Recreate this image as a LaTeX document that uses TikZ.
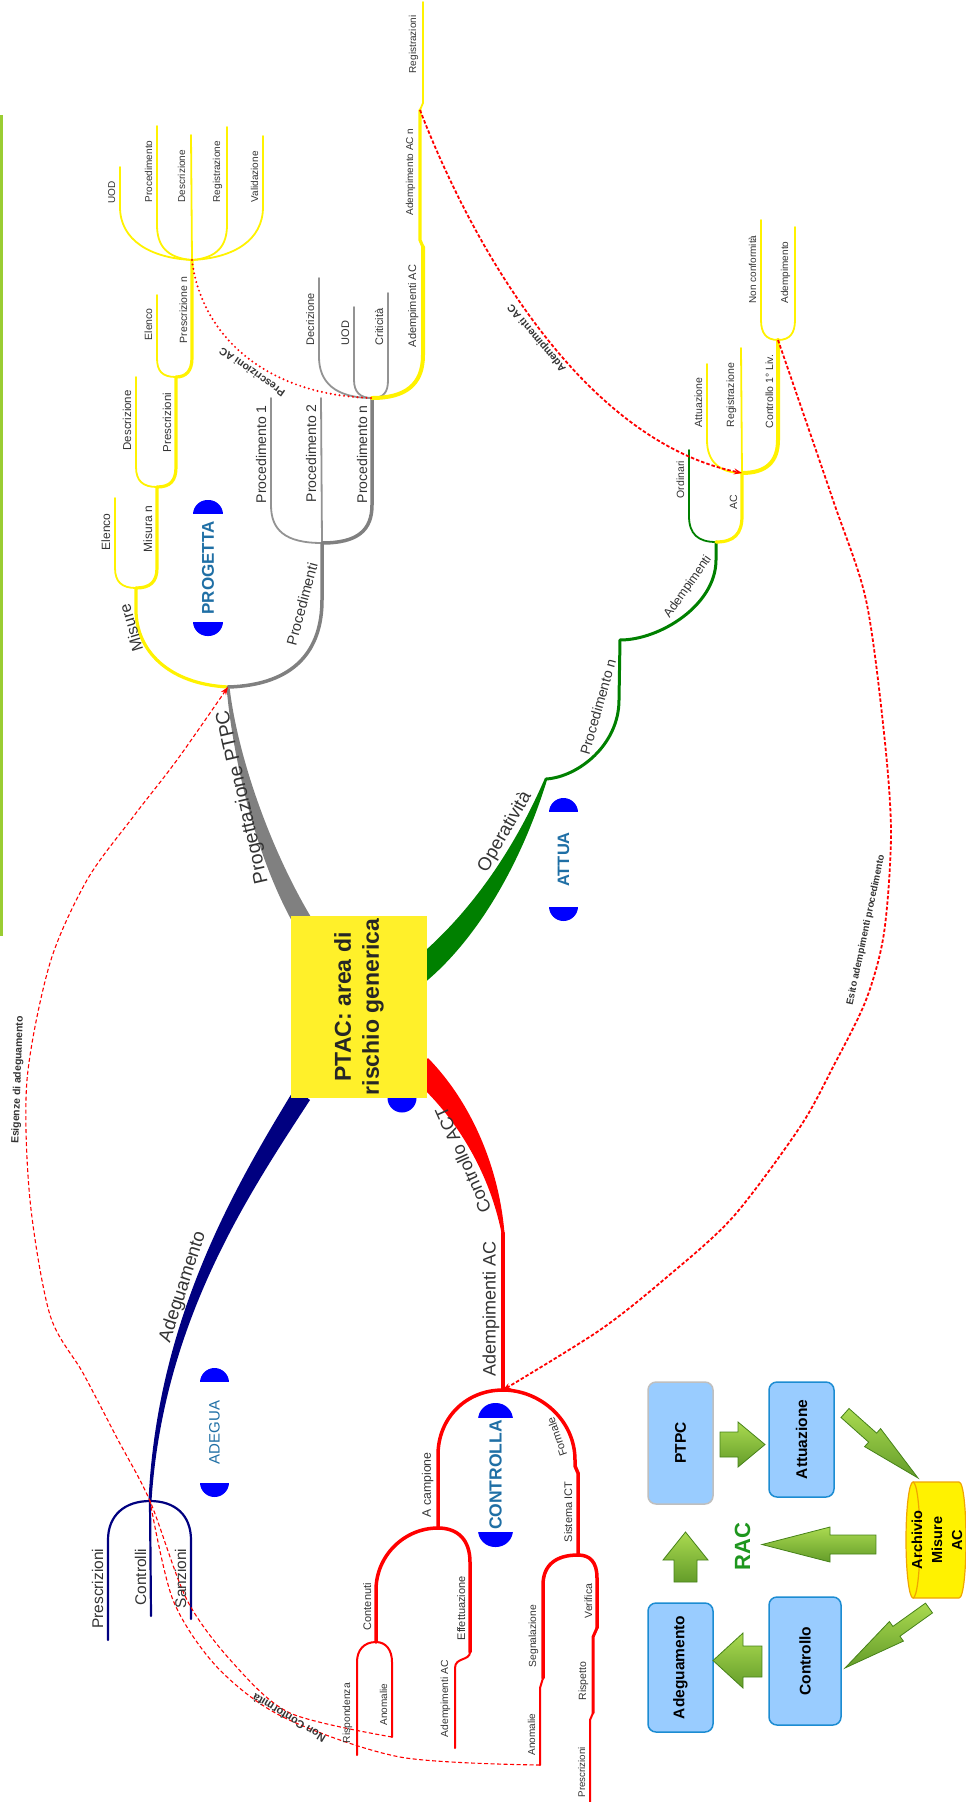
\documentclass[tikz,border=0pt]{standalone}
\usepackage{fontspec}
\setmainfont{Liberation Sans}
\usetikzlibrary{arrows.meta}

\definecolor{navyb}{RGB}{0,0,128}
\definecolor{greyb}{RGB}{128,128,128}
\definecolor{greenb}{RGB}{0,128,0}
\definecolor{redb}{RGB}{255,0,0}
\definecolor{txt}{RGB}{51,51,51}
\definecolor{pilltxt}{RGB}{31,111,165}
\definecolor{ptacyellow}{RGB}{255,240,42}
\definecolor{boxfill}{RGB}{153,204,255}
\definecolor{boxline}{RGB}{28,140,210}
\definecolor{arrowlight}{RGB}{170,218,80}
\definecolor{arrowdark}{RGB}{70,130,25}
\definecolor{racgreen}{RGB}{30,150,30}
\definecolor{cylline}{RGB}{240,165,0}
\definecolor{sidebar}{RGB}{154,205,50}

\begin{document}
\begin{tikzpicture}[x=1pt,y=-1pt,
  fsz/.style={font=\fontsize{#1}{#1}\selectfont},
  bfsz/.style={font=\bfseries\fontsize{#1}{#1}\selectfont},
  leaf/.style={text=txt, inner sep=0.5pt, rotate=90, anchor=south west},
  leafup/.style={text=txt, inner sep=0.5pt, rotate=90, anchor=south east},
  tiltlab/.style={text=txt, inner sep=0pt},
  ybr/.style={draw=yellow, line width=3.2pt, line cap=round},
  ylf/.style={draw=yellow, line width=1.8pt, line cap=round},
  gbr/.style={draw=greyb, line width=3.5pt, line cap=round},
  glf/.style={draw=greyb!85, line width=1.8pt, line cap=round},
  grbr/.style={draw=greenb, line width=3pt, line cap=round},
  grlf/.style={draw=greenb, line width=1.8pt, line cap=round},
  rbr/.style={draw=redb, line width=3.5pt, line cap=round},
  rlf/.style={draw=redb, line width=2pt, line cap=round},
  nlf/.style={draw=navyb, line width=2.2pt, line cap=round},
  rel/.style={draw=redb, line width=1.8pt, dash pattern=on 3.5pt off 2pt},
  relthin/.style={draw=redb, line width=1.1pt, dash pattern=on 4pt off 2.5pt},
  reldots/.style={draw=redb, line width=2.2pt, line cap=round, dash pattern=on 0pt off 4.5pt},
  relhead/.style={-{Stealth[length=8pt,width=6pt]}},
  pillcap/.style={fill=blue, rounded corners=14.5pt},
  pill/.style={fill=white, rotate=90, inner sep=0pt, text=pilltxt, minimum height=34pt},
  cycbox/.style={draw=boxline, line width=1.5pt, fill=boxfill, rounded corners=8pt, rotate=90, bfsz=15.5, inner sep=0pt},
  greenarrow/.style={draw=arrowdark, line width=0.8pt, top color=arrowlight, bottom color=arrowdark!70!arrowlight},
]
\useasboundingbox (0,0) rectangle (966,1802);

\draw[sidebar, line width=3pt] (1.5,115) -- (1.5,936);

% forks of the map
\coordinate (f0) at (228,687);
\coordinate (mis) at (136,588);
\coordinate (msn) at (157,487);
\coordinate (prs) at (176,377);
\coordinate (prn) at (192,260);
\coordinate (prc) at (322,543);
\coordinate (pn) at (372,398);
\coordinate (adac) at (423,247);
\coordinate (adacn) at (420,110);
\coordinate (op) at (546,779);
\coordinate (pdn) at (620,640);
\coordinate (fa) at (716,542);
\coordinate (fac) at (742,473);
\coordinate (fc1) at (778,340);
\coordinate (ck) at (503,1233);
\coordinate (fco) at (503,1390);
\coordinate (fca) at (438,1528);
\coordinate (eff) at (470,1652);
\coordinate (fct) at (376,1642);
\coordinate (ano1) at (392,1737);
\coordinate (fsi) at (578,1555);
\coordinate (seg) at (543,1678);
\coordinate (ano2) at (540,1765);
\coordinate (ver) at (597,1628);
\coordinate (risp) at (593,1713);
\coordinate (fad) at (150,1501);

% main branches
\fill[greyb] (297,930) .. controls (256,860) and (233,760) .. (226.5,687) -- (229.5,687) .. controls (238,760) and (274,860) .. (319,930) -- cycle;
\fill[greenb] (407,966) .. controls (463,922) and (511,857) .. (545,778) -- (547,780) .. controls (521,864) and (477,940) .. (423,984) -- cycle;
\fill[redb] (428,1058) .. controls (472,1103) and (499,1168) .. (504.5,1233) -- (501.5,1233) .. controls (490,1175) and (458,1118) .. (412,1078) -- cycle;
\fill[navyb] (310,1100) .. controls (248,1195) and (163,1322) .. (151.5,1501) -- (148.5,1501) .. controls (157,1318) and (236,1185) .. (295,1088) -- cycle;

% progetta
\draw[ybr] (f0) .. controls (168,684) and (136,650) .. (136,610) -- (mis);
\draw[ylf] (mis) .. controls (122,588) and (115,582) .. (115,568) -- (115,498);
\draw[ybr] (mis) .. controls (150,588) and (157,582) .. (157,568) -- (msn);
\draw[ylf] (msn) .. controls (143,487) and (136,481) .. (136,467) -- (136,377);
\draw[ybr] (msn) .. controls (170,487) and (176,481) .. (176,467) -- (prs);
\draw[ylf] (prs) .. controls (162,377) and (157,371) .. (157,358) -- (157,295);
\draw[ybr] (prs) .. controls (186,377) and (192,371) .. (192,358) -- (prn);
\draw[ylf] (prn) .. controls (150,258) and (120,240) .. (120,207) -- (120,167);
\draw[ylf] (prn) .. controls (167,258) and (157,246) .. (157,225) -- (157,126);
\draw[ylf] (prn) -- (191,135);
\draw[ylf] (prn) .. controls (217,258) and (227,246) .. (227,225) -- (227,127);
\draw[ylf] (prn) .. controls (234,258) and (263,240) .. (263,207) -- (263,136);
\draw[gbr] (f0) .. controls (295,685) and (322,650) .. (322,600) -- (prc);
\draw[glf] (prc) .. controls (285,543) and (271,530) .. (271,505) -- (271,398);
\draw[glf] (prc) -- (321,398);
\draw[gbr] (prc) .. controls (358,543) and (372,530) .. (372,505) -- (pn);
\draw[glf] (pn) .. controls (335,398) and (319,382) .. (319,357) -- (319,278);
\draw[glf] (pn) .. controls (360,398) and (354,392) .. (354,380) -- (354,307);
\draw[glf] (pn) .. controls (384,398) and (388,392) .. (388,380) -- (388,293);
\draw[ybr, line width=4pt] (pn) .. controls (405,398) and (423,385) .. (423,355) -- (adac);
\draw[ybr] (adac) -- (420,240) -- (adacn);
\draw[ylf] (adacn) -- (423,103) -- (423,2);

% attua
\draw[grbr] (op) .. controls (578,777) and (619,745) .. (619,700) -- (pdn);
\draw[grbr] (pdn) .. controls (660,640) and (716,605) .. (716,560) -- (fa);
\draw[grlf] (fa) .. controls (698,542) and (689,534) .. (689,516) -- (689,450);
\draw[ybr] (fa) .. controls (734,542) and (742,534) .. (742,516) -- (fac);
\draw[ylf] (fac) .. controls (720,473) and (707,462) .. (707,440) -- (707,364);
\draw[ylf] (fac) -- (741,348);
\draw[ybr, line width=4pt] (fac) .. controls (766,473) and (778,462) .. (778,440) -- (fc1);
\draw[ylf] (fc1) .. controls (766,340) and (761,333) .. (761,320) -- (761,220);
\draw[ylf] (fc1) .. controls (790,340) and (795,333) .. (795,320) -- (795,227);

% controlla
\draw[rbr] (ck) -- (fco);
\draw[rbr] (fco) .. controls (466,1390) and (438,1418) .. (438,1455) -- (fca);
\draw[rbr] (fco) .. controls (540,1390) and (575,1420) .. (575,1460) -- (575,1466) -- (578,1473) -- (fsi);
\draw[rbr] (fca) .. controls (404,1528) and (376,1556) .. (376,1590) -- (fct);
\draw[rbr] (fca) .. controls (458,1528) and (470,1540) .. (470,1562) -- (eff);
\draw[rlf] (eff) .. controls (470,1661) and (455,1657) .. (455,1668) -- (455,1748);
\draw[rlf] (fct) .. controls (364,1642) and (357,1650) .. (357,1662) -- (357,1755);
\draw[rlf] (fct) .. controls (386,1642) and (392,1650) .. (392,1662) -- (ano1);
\draw[rbr] (fsi) .. controls (556,1555) and (543,1565) .. (543,1585) -- (seg);
\draw[rlf] (seg) -- (540,1688) -- (ano2);
\draw[rbr] (fsi) .. controls (590,1555) and (597,1562) .. (597,1578) -- (ver);
\draw[rlf, line width=3pt] (ver) -- (593,1637) -- (risp);
\draw[rlf] (risp) -- (590,1720) -- (590,1802);

% adegua
\draw[nlf] (fad) .. controls (125,1501) and (108,1515) .. (108,1540) -- (108,1640);
\draw[nlf] (fad) -- (151,1616);
\draw[nlf] (fad) .. controls (175,1501) and (191,1515) .. (191,1540) -- (191,1619);

% central topic
\fill[blue] (402,1098) circle[radius=14.5];
\node[fill=ptacyellow, rotate=90, minimum width=182pt, minimum height=136pt, align=center,
  font=\bfseries\fontsize{23}{28}\selectfont, text=black!85, inner sep=0pt] (ptac) at (359,1007) {PTAC: area di\\rischio generica};

% phase markers
\fill[pillcap] (193,500) rectangle (223,636);
\node[pill, bfsz=17, minimum width=108pt] (progetta) at (208,568) {PROGETTA};
\fill[pillcap] (549,798) rectangle (578,921);
\node[pill, bfsz=16.5, minimum width=95pt] (attua) at (563.5,859.5) {ATTUA};
\fill[pillcap] (200,1368) rectangle (229,1497);
\node[pill, fsz=15, minimum width=101pt] (adegua) at (214.5,1432.5) {ADEGUA};
\fill[pillcap, rounded corners=17pt] (478,1403) rectangle (513,1547);
\node[pill, bfsz=17.5, minimum width=114pt, minimum height=38pt] (controlla) at (495.5,1475) {CONTROLLA};

% relations
\draw[reldots] (prn) .. controls (200,330) and (260,395) .. (pn);
\draw[rel, relhead] (adacn) .. controls (470,240) and (580,440) .. (fac);
\draw[rel, relhead] plot[smooth] coordinates {(fc1) (833,500) (866,600) (884,733) (891,833) (884,933) (866,1000) (833,1067) (800,1127) (733,1217) (667,1277) (600,1330) (fco)};
\draw[relthin, relhead] plot[smooth] coordinates {(ano1) (290,1713) (233,1663) (187,1600) (fad) (117,1438) (83,1373) (50,1315) (30,1200) (27,1080) (50,963) (87,880) (133,817) (177,760) (f0)};
\draw[relthin] plot[smooth] coordinates {(ano2) (400,1757) (283,1717) (217,1667) (173,1600) (fad)};

\node[tiltlab, bfsz=10.5, rotate=145] (lprescac) at (252,372) {Prescrizioni AC};
\node[tiltlab, bfsz=10.5, rotate=130] (ladempac) at (537,338) {Adempimenti AC};
\node[tiltlab, bfsz=9.7, rotate=78] (lesito) at (866,930) {Esito adempimenti procedimento};
\node[tiltlab, bfsz=10.4, rotate=88] (lesig) at (18,1080) {Esigenze di adeguamento};
\node[tiltlab, bfsz=11, rotate=149] (lnonconf) at (289,1718) {Non Conformità};

% branch labels
\node[tiltlab, fsz=19.5, rotate=103] (lprog) at (243,797) {Progettazione PTPC};
\node[tiltlab, fsz=16, rotate=107] (lmis) at (131,628) {Misure};
\node[tiltlab, fsz=14.5, rotate=75] (lproc) at (302,604) {Procedimenti};
\node[tiltlab, fsz=18.5, rotate=60] (lop) at (505,832) {Operatività};
\node[tiltlab, fsz=14, rotate=74] (lpn) at (598,707) {Procedimento n};
\node[tiltlab, fsz=12.5, rotate=55] (ladem) at (688,587) {Adempimenti};
\node[tiltlab, fsz=18, rotate=114] (lcact) at (463,1160) {Controllo ACT};
\node[tiltlab, fsz=11, rotate=109] (lform) at (557,1437) {Formale};
\node[tiltlab, fsz=18.5, rotate=72] (lade) at (183,1287) {Adeguamento};

\node[leaf, fsz=12] (lelenco1) at (111,551) {Elenco};
\node[leaf, fsz=12] (lmisuran) at (153,553) {Misura n};
\node[leaf, fsz=11.5] (ldescr1) at (132,451) {Descrizione};
\node[leaf, fsz=11.5] (lprescr1) at (172,453) {Prescrizioni};
\node[leaf, fsz=10.5] (lelenco2) at (153,341) {Elenco};
\node[leaf, fsz=10.5] (lprescrn) at (188,344) {Prescrizione n};
\node[leaf, fsz=10] (luod1) at (116,204) {UOD};
\node[leaf, fsz=10] (lproced) at (153,203) {Procedimento};
\node[leaf, fsz=10] (ldescr2) at (186,203) {Descrizione};
\node[leaf, fsz=10] (lregistr1) at (223,203) {Registrazione};
\node[leaf, fsz=10] (lvalid) at (259,203) {Validazione};
\node[leaf, fsz=14] (lproc1) at (267,504) {Procedimento 1};
\node[leaf, fsz=14] (lproc2) at (317,503) {Procedimento 2};
\node[leaf, fsz=14] (lprocn) at (368,504) {Procedimento n};
\node[leaf, fsz=11] (ldecr) at (315,346) {Decrizione};
\node[leaf, fsz=11] (luod2) at (350,346) {UOD};
\node[leaf, fsz=11] (lcritic) at (384,346) {Criticità};
\node[leaf, fsz=11] (lademac) at (419,348) {Adempimenti AC};
\node[leaf, fsz=10] (lademacn) at (416,216) {Adempimento AC n};
\node[leaf, fsz=10] (lregistrs) at (419,74) {Registrazioni};

\node[leaf, fsz=10.5] (lordin) at (685,499) {Ordinari};
\node[leaf, fsz=10.5] (lac) at (738,510) {AC};
\node[leaf, fsz=10.5] (lattuaz) at (703,428) {Attuazione};
\node[leaf, fsz=10.5] (lregistr2) at (737,428) {Registrazione};
\node[leaf, fsz=10.5] (lcontr1) at (774,429) {Controllo 1° Liv.};
\node[leaf, fsz=10] (lnonconfl) at (757,304) {Non conformità};
\node[leaf, fsz=10] (lademp) at (791,304) {Adempimento};

\node[leaf, fsz=18] (lademacr) at (500,1377) {Adempimenti AC};
\node[leaf, fsz=12.3] (lacamp) at (434,1518) {A campione};
\node[leaf, fsz=11] (lsistict) at (573,1543) {Sistema ICT};
\node[leaf, fsz=11] (lconten) at (372,1631) {Contenuti};
\node[leaf, fsz=11] (leffett) at (466,1641) {Effettuazione};
\node[leaf, fsz=10.3] (lademacl) at (451,1738) {Adempimenti AC};
\node[leaf, fsz=10.3] (lrispond) at (353,1744) {Rispondenza};
\node[leaf, fsz=10] (lanom1) at (388,1726) {Anomalie};
\node[leaf, fsz=10.3] (lsegnal) at (539,1668) {Segnalazione};
\node[leaf, fsz=10] (lanom2) at (536,1756) {Anomalie};
\node[leaf, fsz=10.5] (lverif) at (593,1619) {Verifica};
\node[leaf, fsz=10.5] (lrispet) at (589,1701) {Rispetto};
\node[leaf, fsz=9.7] (lprescr3) at (586,1798) {Prescrizioni};

\node[leafup, fsz=15.5] (lprescr2) at (104,1548) {Prescrizioni};
\node[leafup, fsz=15.5] (lcontrolli) at (147,1548) {Controlli};
\node[leafup, fsz=15.5] (lsanz) at (187,1548) {Sanzioni};

% RAC cycle
\node[cycbox, draw=gray!50, minimum width=122pt, minimum height=65pt] (ptpc) at (680.5,1443) {PTPC};
\node[cycbox, minimum width=115pt, minimum height=65pt] (attuazione) at (801.5,1439.5) {Attuazione};
\node[cycbox, minimum width=129pt, minimum height=65pt] (adeguamento) at (680.5,1667.5) {Adeguamento};
\node[cycbox, minimum width=128pt, minimum height=72pt] (controllo) at (805,1661) {Controllo};

\fill[yellow] (913,1482) rectangle (959,1598);
\filldraw[yellow, draw=cylline, line width=1.2pt] (913,1482) -- (959,1482) .. controls (968.3,1482) and (968.3,1598) .. (959,1598) -- (913,1598);
\filldraw[fill=yellow, draw=cylline, line width=1.2pt] (913,1540) ellipse[x radius=7, y radius=58];
\node[rotate=90, align=center, font=\bfseries\fontsize{14.5}{20}\selectfont, inner sep=0pt] (archivio) at (937,1540) {Archivio\\Misure\\AC};

\node[rotate=90, bfsz=22, text=racgreen, inner sep=0pt] (rac) at (742.5,1546.5) {RAC};

\shade[greenarrow] (720,1432) -- (738,1432) -- (738,1422) -- (765,1444.5) -- (738,1467) -- (738,1457) -- (720,1457) -- cycle;
\shade[greenarrow] (841,1417.5) -- (868.6,1442.1) -- (864.6,1446.6) -- (918,1478) -- (880.6,1428.6) -- (876.6,1433.1) -- (849,1408.5) -- cycle;
\shade[greenarrow] (925.5,1603.1) -- (892.9,1626.4) -- (889.4,1621.5) -- (845,1668) -- (903.4,1641.1) -- (899.9,1636.2) -- (932.5,1612.9) -- cycle;
\shade[greenarrow] (762,1646) -- (743,1646) -- (743,1633) -- (713,1660.5) -- (743,1688) -- (743,1677) -- (762,1677) -- cycle;
\shade[greenarrow] (674,1582) -- (674,1560) -- (663,1560) -- (685.5,1532) -- (708,1560) -- (697,1560) -- (697,1582) -- cycle;
\shade[greenarrow] (876,1535) -- (830,1535) -- (830,1527) -- (762,1544.5) -- (830,1562) -- (830,1554) -- (876,1554) -- cycle;
\end{tikzpicture}
\end{document}
